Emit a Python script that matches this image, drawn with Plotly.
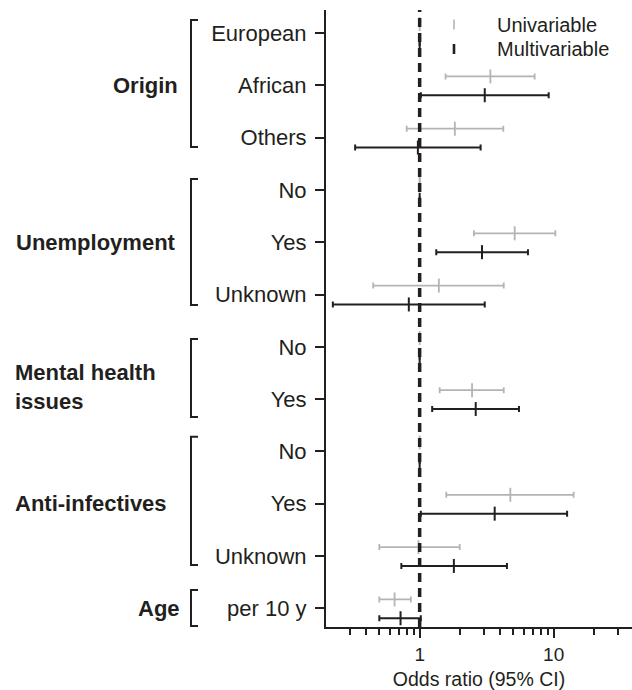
import numpy as np
import plotly.graph_objects as go

# ---- data -------------------------------------------------------------
categories = ["European", "African", "Others",
              "No", "Yes", "Unknown",
              "No", "Yes",
              "No", "Yes", "Unknown",
              "per 10 y"]

uni_or = [1, 3.37, 1.83, 1, 5.12, 1.39, 1, 2.46, 1, 4.75, 0.98, 0.65]
uni_lo = [1, 1.56, 0.80, 1, 2.54, 0.45, 1, 1.41, 1, 1.58, 0.50, 0.50]
uni_hi = [1, 7.21, 4.21, 1, 10.3, 4.24, 1, 4.24, 1, 14.1, 1.99, 0.86]

multi_or = [1, 3.06, 0.97, 1, 2.92, 0.83, 1, 2.62, 1, 3.63, 1.80, 0.72]
multi_lo = [1, 1.02, 0.33, 1, 1.33, 0.225, 1, 1.24, 1, 1.02, 0.73, 0.50]
multi_hi = [1, 9.18, 2.85, 1, 6.43, 3.06, 1, 5.51, 1, 12.6, 4.48, 1.02]

groups = ["Origin", "Unemployment", "Mental health<br>issues", "Anti-infectives", "Age"]
group_rows = [(0, 2), (3, 5), (6, 7), (8, 10), (11, 11)]

series_names = ["Univariable", "Multivariable"]
minor_ticks = [0.3, 0.4, 0.5, 0.6, 0.7, 0.8, 0.9, 2, 3, 4, 5, 6, 7, 8, 9, 20, 30]

# ---- styling ----------------------------------------------------------
W, H = 632, 690
ML, MR, MT, MB = 326, 0, 10, 63
PW, PH = W - ML - MR, H - MT - MB
DECADE_PX = 134
FONT = "Liberation Sans, Arial, sans-serif"
DARK = "#231f20"
GREY = "#b4b4b4"

ROW_PX = 52.3
top_pad = 23 / ROW_PX
y_range = [-top_pad + PH / ROW_PX, -top_pad]
x_lo = np.log10(0.2)
x_range = [x_lo, x_lo + PW / DECADE_PX]

rows = np.arange(len(categories))
uni_y = rows - 0.17
multi_y = rows + 0.19


def px_to_paper_x(px):
    return (px - ML) / PW


def px_to_paper_y(py):
    return 1 - (py - MT) / PH


def errs(center, lo, hi):
    c, l, h = map(np.asarray, (center, lo, hi))
    return (h - c).tolist(), (c - l).tolist()


fig = go.Figure()

up, um = errs(uni_or, uni_lo, uni_hi)
fig.add_trace(go.Scatter(
    x=uni_or, y=uni_y, mode="markers", name=series_names[0],
    marker=dict(symbol="line-ns", size=10, color=GREY,
                line=dict(color=GREY, width=1.8)),
    error_x=dict(type="data", array=up, arrayminus=um, color=GREY,
                 thickness=1.8, width=3),
))

mp, mm = errs(multi_or, multi_lo, multi_hi)
fig.add_trace(go.Scatter(
    x=multi_or, y=multi_y, mode="markers", name=series_names[1],
    marker=dict(symbol="line-ns", size=10, color=DARK,
                line=dict(color=DARK, width=2)),
    error_x=dict(type="data", array=mp, arrayminus=mm, color=DARK,
                 thickness=2, width=3),
))

# reference line at OR = 1
fig.add_shape(type="line", xref="x", yref="paper", x0=1, x1=1, y0=0, y1=1,
              line=dict(color=DARK, width=3.5, dash="9px,6px"), layer="above")

# group brackets and labels
bracket_x = px_to_paper_x(191)
serif_x = px_to_paper_x(198)
label_pos = [(180, "right"), (14, "left"), (13, "left"), (13, "left"), (182, "right")]
bracket_pad = [(0.25, 0.18), (0.21, 0.2), (0.15, 0.34), (0.28, 0.17), (0.35, 0.34)]
for name, (r0, r1), (lx, anchor), (p0, p1) in zip(groups, group_rows, label_pos, bracket_pad):
    y0, y1 = r0 - p0, r1 + p1
    fig.add_shape(type="path", xref="paper", yref="y",
                  path=f"M {serif_x},{y0} L {bracket_x},{y0} L {bracket_x},{y1} L {serif_x},{y1}",
                  line=dict(color=DARK, width=2))
    multiline = "<br>" in name
    fig.add_annotation(
        xref="paper", yref="y", x=px_to_paper_x(lx), y=(r0 + r1) / 2,
        yshift=-14 if multiline else 0,
        text=f"<b>{name}</b>", showarrow=False, xanchor=anchor, yanchor="middle",
        align="left", font=dict(family=FONT, size=22, color=DARK))

# legend keys (short vertical ticks) with their labels
key_x = px_to_paper_x(454)
legend_rows = [(24.5, GREY, 1.6), (49, DARK, 2.6)]
for name, (cy, col, lw) in zip(series_names, legend_rows):
    fig.add_shape(type="line", xref="paper", yref="paper", x0=key_x, x1=key_x,
                  y0=px_to_paper_y(cy - 5), y1=px_to_paper_y(cy + 5),
                  line=dict(color=col, width=lw))
    fig.add_annotation(xref="paper", yref="paper", x=px_to_paper_x(495),
                       y=px_to_paper_y(cy), text=name, showarrow=False,
                       xanchor="left", yanchor="middle",
                       font=dict(family=FONT, size=20, color=DARK))

fig.update_layout(
    width=W, height=H,
    margin=dict(l=ML, r=MR, t=MT, b=MB, pad=0),
    paper_bgcolor="white", plot_bgcolor="white",
    font=dict(family=FONT, color=DARK),
    showlegend=False,
    xaxis=dict(
        type="log", range=x_range, tickvals=[1, 10], ticktext=["1", "10"],
        ticks="outside", ticklen=9, tickwidth=2, tickcolor=DARK,
        showline=True, linewidth=2, linecolor=DARK, showgrid=False, zeroline=False,
        tickfont=dict(family=FONT, size=19, color=DARK),
        minor=dict(tickmode="array", tickvals=minor_ticks, ticks="outside",
                   ticklen=6, tickwidth=1.5, tickcolor=DARK, showgrid=False),
        title=dict(text="Odds ratio (95% CI)", font=dict(family=FONT, size=19.5, color=DARK),
                   standoff=11),
    ),
    yaxis=dict(
        range=y_range, tickvals=rows.tolist(), ticktext=categories,
        ticks="outside", ticklen=9, tickwidth=2, tickcolor=DARK,
        showline=True, linewidth=2, linecolor=DARK, showgrid=False, zeroline=False,
        tickfont=dict(family=FONT, size=22, color=DARK), ticklabelstandoff=4,
    ),
)

fig.write_html("out.html")
